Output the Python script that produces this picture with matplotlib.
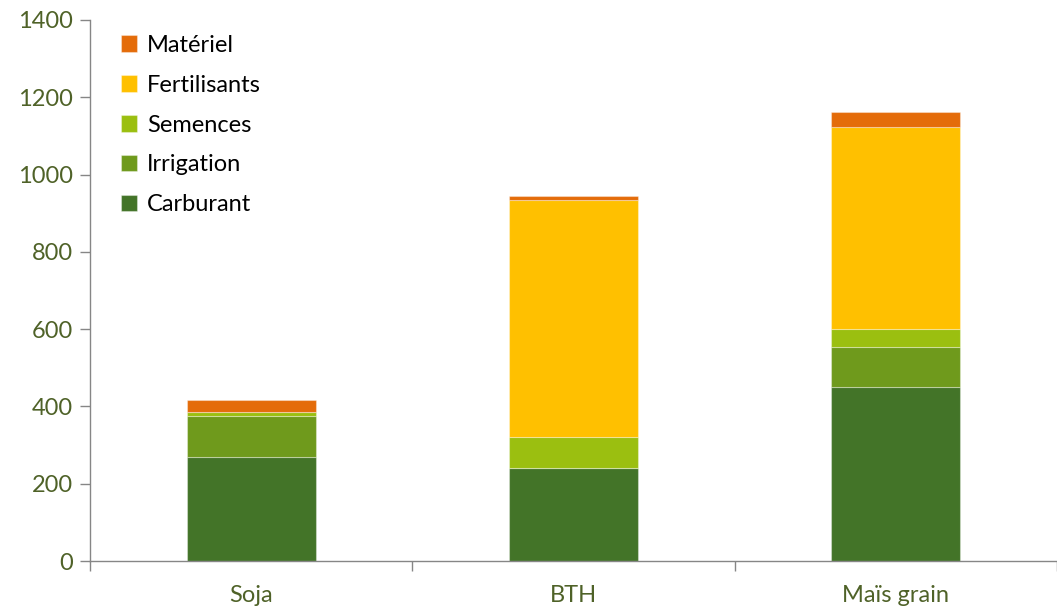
import matplotlib
matplotlib.use("Agg")
import matplotlib.pyplot as plt
import numpy as np

categories = ["Soja", "BTH", "Maïs grain"]
series_names = ["Carburant", "Irrigation", "Semences", "Fertilisants", "Matériel"]
carburant = [268, 240, 450]
irrigation = [106, 0, 105]
semences = [11, 81, 46]
fertilisants = [0, 612, 522]
materiel = [31, 12, 40]
colors = ["#437428", "#6F9A1C", "#9BBF10", "#FFC000", "#E46C0A"]
yticks = [0, 200, 400, 600, 800, 1000, 1200, 1400]

plt.rcParams['font.family'] = ['Lato', 'DejaVu Sans']
fig = plt.figure(figsize=(10.57, 6.07), dpi=100)
ax = fig.add_axes([90/1057, 46/607, 1 - 90/1057, (561-20)/607])

x = np.arange(len(categories))
bottom = np.zeros(len(categories))
handles = []
for name, vals, c in zip(series_names, [carburant, irrigation, semences, fertilisants, materiel], colors):
    vals = np.array(vals, dtype=float)
    b = ax.bar(x, vals, 0.4, bottom=bottom, color=c, label=name,
               edgecolor=(1, 1, 1, 0.35), linewidth=0.8)
    handles.append(b)
    bottom += vals

ax.set_xlim(-0.5, len(categories) - 0.5)
ax.set_ylim(0, 1400)
ax.set_yticks(yticks)
ax.set_yticklabels([str(v) for v in yticks])
ax.set_xticks(x)
ax.set_xticklabels(categories)
ax.set_xticks(np.arange(-0.5, len(categories)), minor=True)

tick_color = "#4F6228"
ax.tick_params(axis='y', colors="#868686", labelcolor=tick_color, labelsize=17, length=7, width=1, pad=5)
ax.tick_params(axis='x', which='major', length=0, labelcolor=tick_color, labelsize=17, pad=17)
ax.tick_params(axis='x', which='minor', length=7, colors="#868686", width=1)

for s in ['top', 'right']:
    ax.spines[s].set_visible(False)
for s in ['left', 'bottom']:
    ax.spines[s].set_color("#868686")
    ax.spines[s].set_linewidth(1)

leg = ax.legend(handles[::-1], series_names[::-1], loc='upper left',
                bbox_to_anchor=(0.01, 1.012), frameon=False, fontsize=17,
                handlelength=0.7, handleheight=0.7, handletextpad=0.4,
                labelspacing=0.8)

fig.savefig("out.png", dpi=100)
